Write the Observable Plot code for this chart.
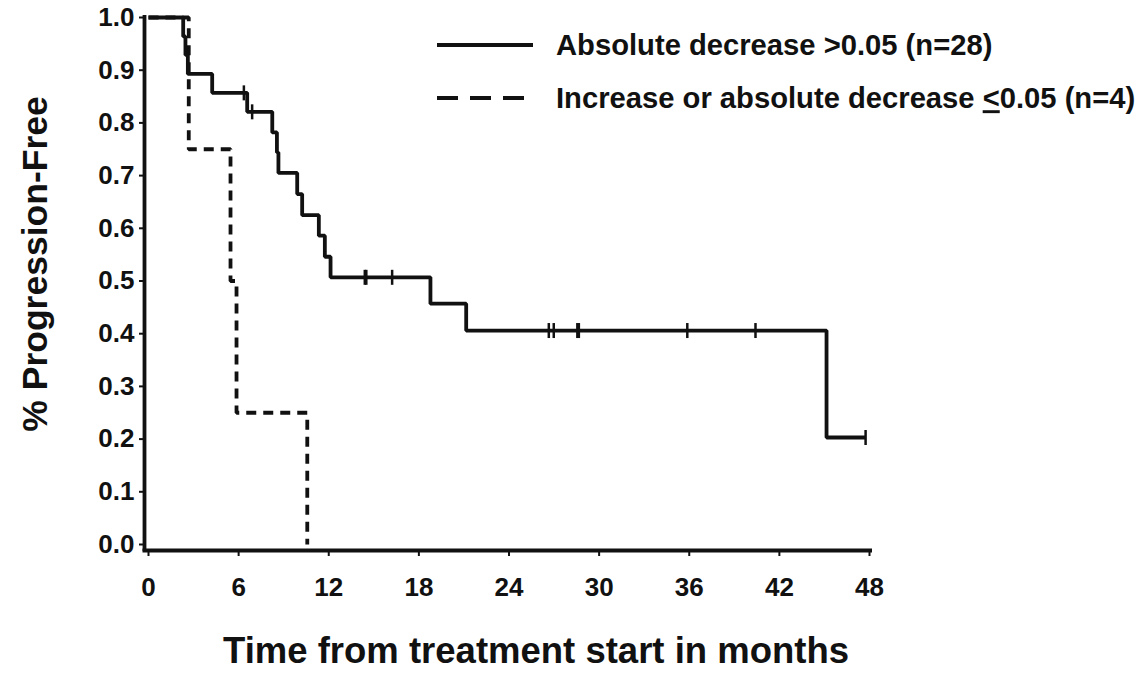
<!DOCTYPE html>
<html>
<head>
<meta charset="utf-8">
<script src="https://cdn.jsdelivr.net/npm/d3@7"></script>
<script src="https://cdn.jsdelivr.net/npm/@observablehq/plot@0.6"></script>
<style>
  html, body { margin: 0; padding: 0; background: #fff; }
  #chart { position: relative; width: 1142px; height: 673px; }
</style>
</head>
<body>
<div id="chart"></div>
<script>
// ---- data ----
const xTicks = [0, 6, 12, 18, 24, 30, 36, 42, 48];
const yTicks = [0, 0.1, 0.2, 0.3, 0.4, 0.5, 0.6, 0.7, 0.8, 0.9, 1.0];
const xLabel = "Time from treatment start in months";
const yLabel = "% Progression-Free";
const seriesNames = ["Absolute decrease >0.05 (n=28)", "Increase or absolute decrease ≤0.05 (n=4)"];

// solid group (n=28): Kaplan-Meier step points
const solidTime = [0, 2.31, 2.46, 2.62, 4.24, 6.57, 8.24, 8.55, 8.65, 9.9, 10.23, 11.34, 11.74, 12.12, 18.77, 21.15, 45.14, 47.74];
const solidSurv = [1, 0.964, 0.929, 0.893, 0.857, 0.821, 0.782, 0.744, 0.705, 0.665, 0.625, 0.586, 0.546, 0.507, 0.457, 0.406, 0.203, 0.203];
// censored observations (solid group)
const censorTime = [6.35, 6.9, 14.4, 14.5, 16.22, 26.65, 26.98, 28.55, 28.65, 35.87, 40.41, 47.74];
const censorSurv = [0.857, 0.821, 0.507, 0.507, 0.507, 0.406, 0.406, 0.406, 0.406, 0.406, 0.406, 0.203];

// dashed group (n=4)
const dashTime = [0, 2.68, 5.46, 5.86, 10.57];
const dashSurv = [1, 0.75, 0.5, 0.25, 0];

// ---- build tables ----
const solid = solidTime.map((t, i) => ({t, s: solidSurv[i]}));
const dashed = dashTime.map((t, i) => ({t, s: dashSurv[i]}));
const censors = censorTime.map((t, i) => ({t, s: censorSurv[i]}));

const vtick = { draw(context) { context.moveTo(0, -7.5); context.lineTo(0, 7.5); } };
const FONT = "'Liberation Sans', Arial, Helvetica, sans-serif";
const INK = "#111";

const plot = Plot.plot({
  width: 1142,
  height: 673,
  marginLeft: 148,
  marginRight: 273,
  marginTop: 17,
  marginBottom: 129,
  style: { fontFamily: FONT, fontWeight: "bold", background: "#fff", color: INK, overflow: "visible" },
  x: { domain: [0, 48] },
  y: { domain: [0, 1] },
  marks: [
    Plot.axisY({ ticks: yTicks, tickFormat: d => d.toFixed(1), tickSize: 5, tickPadding: 5, dx: -4,
                 fontSize: 26, label: null, strokeWidth: 2, stroke: INK, fill: INK }),
    Plot.axisX({ ticks: xTicks, tickFormat: d => String(d), tickSize: 6, tickPadding: 21, dy: 6,
                 fontSize: 26, label: null, strokeWidth: 2, stroke: INK, fill: INK }),
    Plot.ruleX([0], { dx: -4, insetTop: -2, insetBottom: -7, stroke: INK, strokeWidth: 3.8 }),
    Plot.ruleY([0], { dy: 6, insetLeft: -5.5, insetRight: -3, stroke: INK, strokeWidth: 3.8 }),
    Plot.line(dashed, { x: "t", y: "s", curve: "step-after", stroke: INK, strokeWidth: 3.8,
                        strokeDasharray: "10,7", strokeLinejoin: "miter", strokeLinecap: "butt" }),
    Plot.line(solid, { x: "t", y: "s", curve: "step-after", stroke: INK, strokeWidth: 3.8,
                       strokeLinejoin: "miter", strokeLinecap: "butt" }),
    Plot.dot(censors, { x: "t", y: "s", symbol: vtick, stroke: INK, strokeWidth: 2.5, fill: "none" }),
    Plot.text([xLabel], { frameAnchor: "bottom", dx: 27, dy: 107, lineAnchor: "middle", textAnchor: "middle",
                          fontSize: 36.5, fontWeight: "bold", fill: INK }),
    Plot.text([yLabel], { frameAnchor: "left", rotate: -90, dx: -113, dy: -17, lineAnchor: "middle", textAnchor: "middle",
                          fontSize: 35.5, fontWeight: "bold", fill: INK })
  ]
});

document.getElementById("chart").appendChild(plot);

// ---- legend (drawn into the same SVG) ----
const svg = d3.select(plot);
const legendStyles = [null, "21,12"];
const lg = svg.append("g").attr("font-family", FONT).attr("font-weight", "bold").attr("font-size", 29.2)
  .attr("fill", INK).attr("text-anchor", "start");
seriesNames.forEach((name, i) => {
  const y = 45 + i * 53;
  lg.append("line").attr("x1", 437).attr("x2", 533).attr("y1", y).attr("y2", y)
    .attr("stroke", INK).attr("stroke-width", 4)
    .attr("stroke-dasharray", legendStyles[i]);
  const t = lg.append("text").attr("x", 556).attr("y", y).attr("dy", "0.35em").attr("text-anchor", "start");
  const parts = name.split("≤");
  t.append("tspan").text(parts[0]);
  if (parts.length > 1) {
    t.append("tspan").attr("text-decoration", "underline").text("<");
    t.append("tspan").text(parts[1]);
  }
});
</script>
</body>
</html>
